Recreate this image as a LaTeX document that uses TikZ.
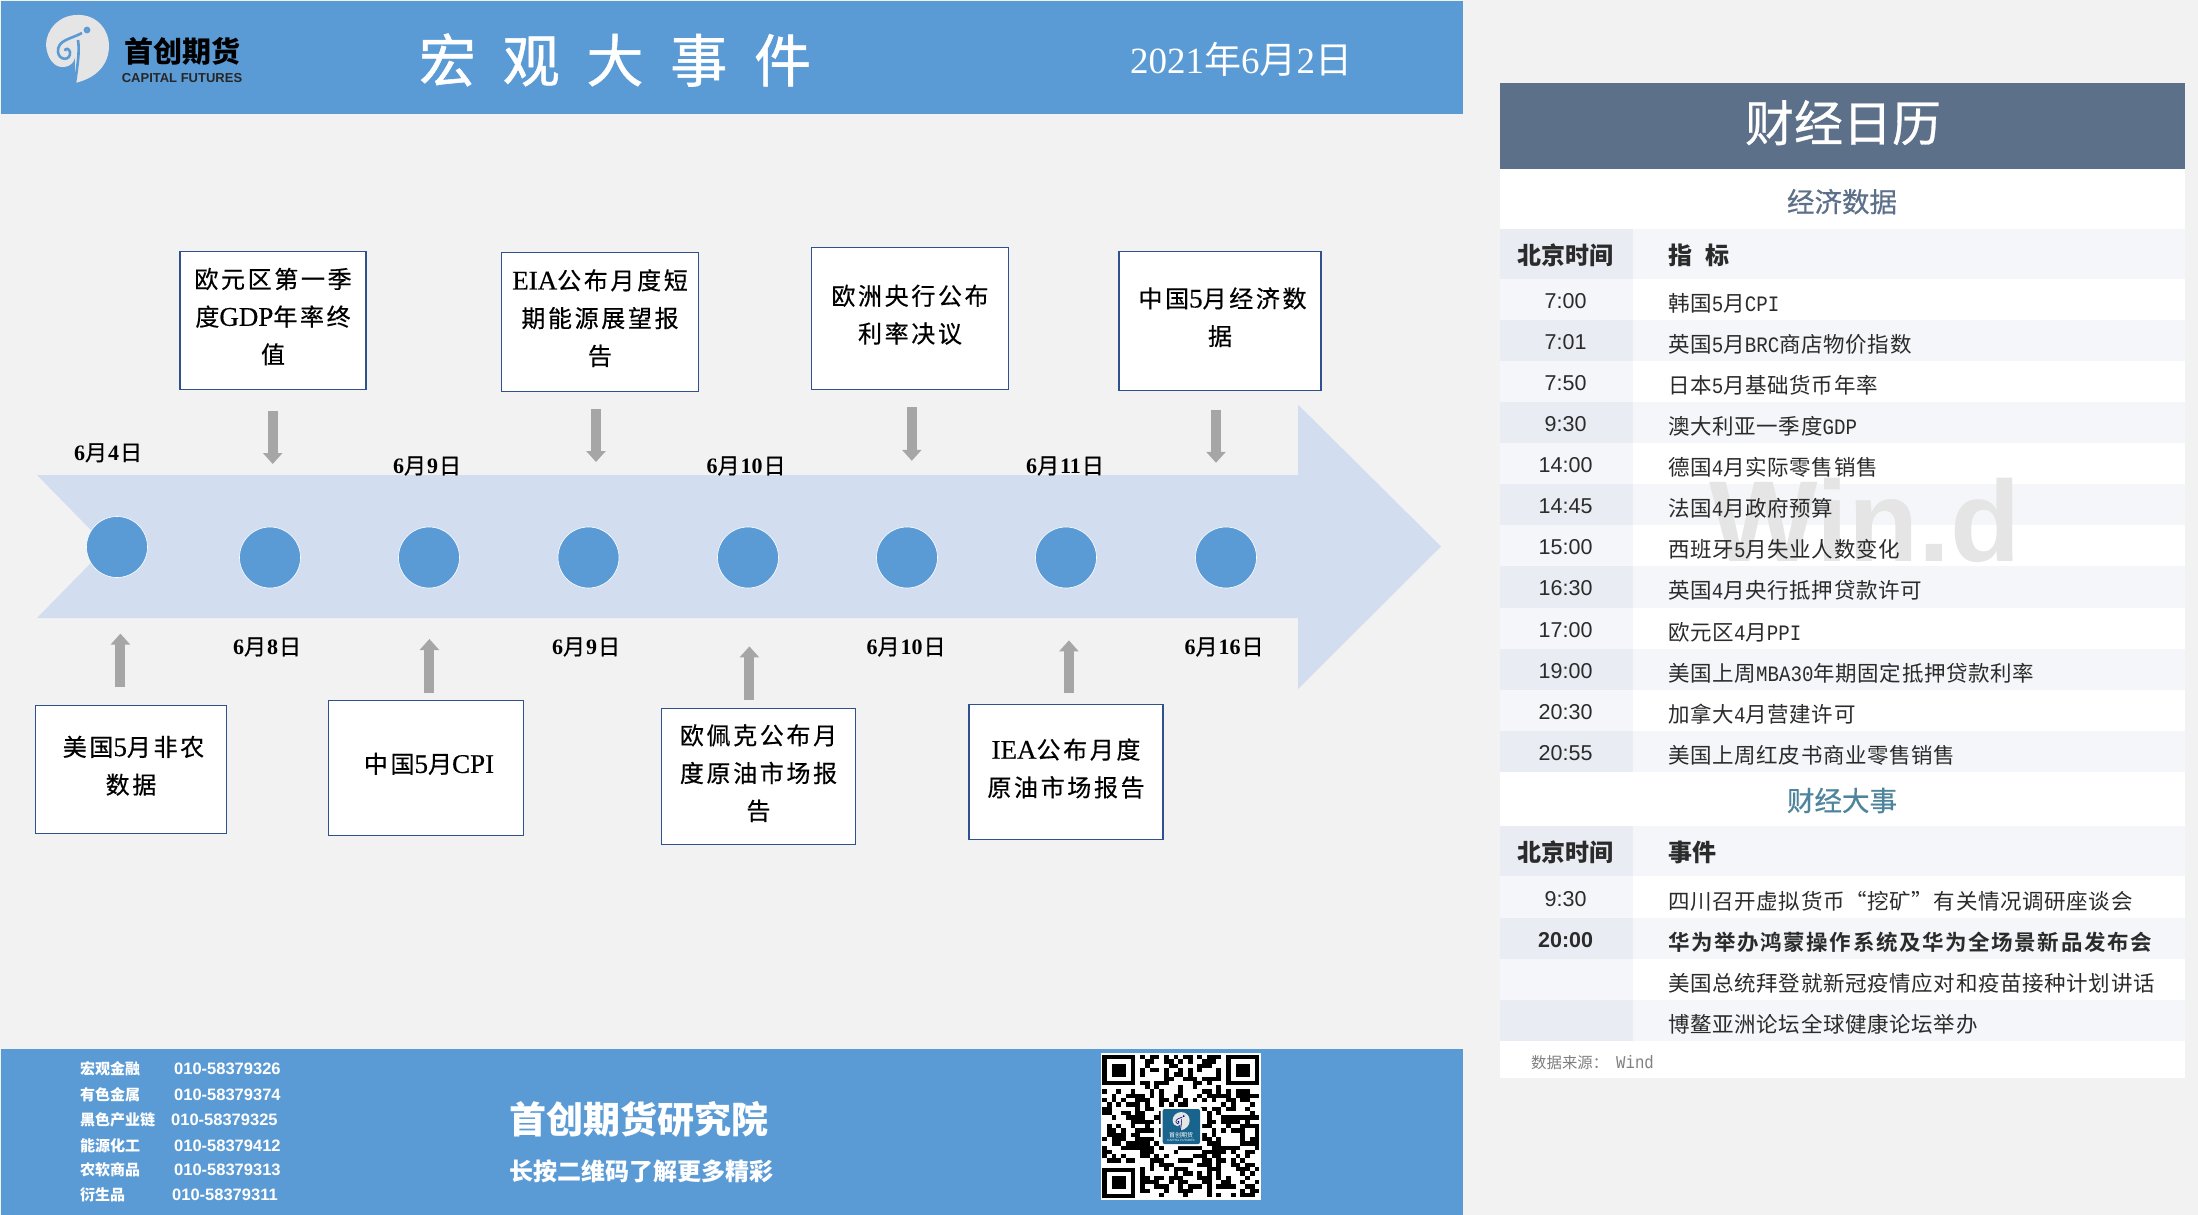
\documentclass[tikz,border=0pt]{standalone}
\usepackage{fontspec}
\setmainfont{Liberation Serif}
\setsansfont{Liberation Sans}
\setmonofont{Liberation Mono}
\newfontfamily\cjk{Noto Sans CJK SC}
\newfontfamily\calcjk[FakeBold=.6]{Noto Sans CJK SC}
\newfontfamily\evcjk[LetterSpace=11,FakeBold=.4]{Noto Sans CJK SC}
\newfontfamily\datecjk[LetterSpace=9,FakeBold=.7]{Noto Sans CJK SC}
\newfontfamily\rowcjk[LetterSpace=3]{Noto Sans CJK SC}
\newfontfamily\rowbold[LetterSpace=7.5]{Noto Sans CJK SC Bold}
\newfontfamily\titlecjk[LetterSpace=47,FakeBold=1]{Noto Sans CJK SC}
\newfontfamily\rowmono[FakeStretch=.87]{Liberation Mono}
\newfontfamily\evlatin[FakeBold=.4]{Liberation Serif}
\newcommand\fs[1]{\fontsize{#1}{#1}\selectfont}
\newcommand\mn[1]{{\fs{22}\rowmono #1}}
\newcommand\lt[1]{{\fontsize{27}{37.7}\selectfont\evlatin #1}}
\newcommand\dt[2]{{\rmfamily\bfseries #1}月\hspace{1pt}{\rmfamily\bfseries #2}\hspace{1pt}日}
\usetikzlibrary{arrows.meta}
\definecolor{pagegray}{HTML}{F2F2F2}
\definecolor{headblue}{HTML}{5B9BD5}
\definecolor{shaftblue}{HTML}{D2DEEF}
\definecolor{boxline}{HTML}{2F528F}
\definecolor{slate}{HTML}{5C708A}
\definecolor{rowdark}{HTML}{E9EDF3}
\definecolor{rowlight}{HTML}{F4F6F9}
\definecolor{inktext}{HTML}{2B2B2B}
\tikzset{
  eventbox/.style={draw=boxline,line width=1.2pt,fill=white,inner sep=0pt,align=center,
    font=\fontsize{24}{37.7}\selectfont\evcjk,execute at end node={\rule[-9.5pt]{0pt}{0pt}}},
  eventdot/.style={circle,draw=white,line width=.6pt,fill=headblue,inner sep=0pt,minimum size=61pt},
  datelab/.style={inner sep=0pt,font=\fs{22}\datecjk},
  grayarrow/.style={line width=10pt,color=black!35,-{Triangle[length=11pt,width=19pt]}},
  timelab/.style={anchor=base,inner sep=0pt,text=inktext,font=\fs{21.5}\sffamily},
  rowlab/.style={anchor=base west,inner sep=0pt,text=inktext,font=\fs{21.5}\rowcjk},
  headlab/.style={anchor=base,inner sep=0pt,text=inktext,font=\fs{24}\bfseries\cjk},
  sectionlab/.style={inner sep=0pt,font=\fs{27.5}\calcjk},
  phonelab/.style={anchor=west,inner sep=0pt,text=white,font=\fs{16.5}\bfseries\sffamily},
  deptlab/.style={anchor=west,inner sep=0pt,text=white,font=\fs{15}\bfseries\cjk},
  swirl/.pic={
    \fill[white!90!black] (-2,35) .. controls (20,30) and (32,16) .. (32,-2)
      .. controls (32,-20) and (18,-34) .. (0,-33)
      .. controls (-18,-33) and (-31,-18) .. (-31,-3)
      .. controls (-30,10) and (-23,20) .. (-13,19)
      .. controls (-4,18) and (0,10) .. (-2,3) -- cycle;
    \draw[pic actions,fill=none] (5,-15) .. controls (-6,-9) and (-20,-8) .. (-19,4)
      .. controls (-18,13) and (-6,13) .. (-7,4) .. controls (-8,0) and (-12,0) .. (-12,3);
    \draw[pic actions,fill=none] (1,-8) .. controls (3,4) and (0,20) .. (-2,35);
    \draw[pic actions,fill=none] (10,-18) circle (2);
  }
}
\begin{document}
\begin{tikzpicture}[x=1pt,y=-1pt]
  \useasboundingbox (0,0) rectangle (2198,1215);
  \fill[pagegray] (0,0) rectangle (2198,1215);
  \fill[headblue] (1,1) rectangle (1463,114);
  \fill[headblue] (1,1049) rectangle (1463,1215);

  % header
  \pic[draw=headblue,line width=2.6pt] at (77,48) {swirl};
  \node[inner sep=0pt,font=\fs{29}\bfseries\cjk] (brand) at (182,51) {首创期货};
  \node[inner sep=0pt,text=black!85,font=\fs{13}\bfseries\sffamily] (brandsub) at (182,78) {CAPITAL FUTURES};
  \node[inner sep=0pt,text=white,font=\fs{57}\titlecjk] (title) at (615,60) {宏观大事件};
  \node[inner sep=0pt,text=white,font=\fs{37}\rmfamily] (today) at (1241,59) {2021{\cjk 年}6{\cjk 月}2{\cjk 日}};

  \begin{scope}[yshift=-1pt]
  % timeline arrow
  \fill[shaftblue] (37,474) -- (1298,474) -- (1298,403.6) -- (1441,545.5) -- (1298,688)
    -- (1298,617) -- (37,617) -- (107,545.5) -- cycle;
  \node[eventdot] (dot1) at (117,546) {};
  \node[eventdot] (dot2) at (270,556.5) {};
  \node[eventdot] (dot3) at (429,556.5) {};
  \node[eventdot] (dot4) at (588.5,556.5) {};
  \node[eventdot] (dot5) at (748,556.5) {};
  \node[eventdot] (dot6) at (907,556.5) {};
  \node[eventdot] (dot7) at (1066,556.5) {};
  \node[eventdot] (dot8) at (1226,556.5) {};

  % dates
  \node[datelab] (date1) at (108,451.8) {\dt{6}{4}};
  \node[datelab] (date2) at (267,646) {\dt{6}{8}};
  \node[datelab] (date3) at (427,465) {\dt{6}{9}};
  \node[datelab] (date4) at (586,646) {\dt{6}{9}};
  \node[datelab] (date5) at (746,465) {\dt{6}{10}};
  \node[datelab] (date6) at (906,646) {\dt{6}{10}};
  \node[datelab] (date7) at (1065,465) {\dt{6}{11}};
  \node[datelab] (date8) at (1224,646) {\dt{6}{16}};

  % events above
  \node[eventbox,minimum width=186pt,minimum height=138pt] (euro) at (273,319.4) {欧元区第一季\\度\lt{GDP}年率终\\值};
  \node[eventbox,minimum width=197pt,minimum height=139pt] (eia) at (600,320.8) {\lt{EIA}公布月度短\\期能源展望报\\告};
  \node[eventbox,minimum width=197pt,minimum height=142pt] (ecb) at (910,317.4) {欧洲央行公布\\利率决议};
  \node[eventbox,minimum width=202pt,minimum height=139pt] (china) at (1220,320) {\hspace*{5pt}中国\lt{5}月经济数\\据};

  % events below
  \node[eventbox,minimum width=191pt,minimum height=128pt] (nfp) at (131,768.5) {\hspace*{5pt}美国\lt{5}月非农\\数据};
  \node[eventbox,minimum width=195pt,minimum height=135pt] (cpi) at (426,766.6) {\hspace*{6pt}中国\lt{5}月\lt{CPI}};
  \node[eventbox,minimum width=194pt,minimum height=136pt] (opec) at (758.5,775.8) {欧佩克公布月\\度原油市场报\\告};
  \node[eventbox,minimum width=194pt,minimum height=135pt] (iea) at (1066,771.2) {\lt{IEA}公布月度\\原油市场报告};

  % gray arrows
  \coordinate (euroA) at (272.7,409.6);   \coordinate (euroB) at (272.7,463);
  \coordinate (eiaA) at (596,408);        \coordinate (eiaB) at (596,461);
  \coordinate (ecbA) at (911.8,406.4);    \coordinate (ecbB) at (911.8,459.8);
  \coordinate (chinaA) at (1216,408.8);   \coordinate (chinaB) at (1216,461.8);
  \coordinate (nfpA) at (120.4,686);      \coordinate (nfpB) at (120.4,632.6);
  \coordinate (cpiA) at (429.4,691.6);    \coordinate (cpiB) at (429.4,638);
  \coordinate (opecA) at (749.4,698.5);   \coordinate (opecB) at (749.4,645.4);
  \coordinate (ieaA) at (1068.9,692.4);   \coordinate (ieaB) at (1068.9,639.4);
  \draw[grayarrow] (euroA) -- (euroB);
  \draw[grayarrow] (eiaA) -- (eiaB);
  \draw[grayarrow] (ecbA) -- (ecbB);
  \draw[grayarrow] (chinaA) -- (chinaB);
  \draw[grayarrow] (nfpA) -- (nfpB);
  \draw[grayarrow] (cpiA) -- (cpiB);
  \draw[grayarrow] (opecA) -- (opecB);
  \draw[grayarrow] (ieaA) -- (ieaB);
  \end{scope}

  % footer
  \begin{scope}[yshift=-.7pt]
  \node[deptlab] (dept1) at (80,1067.9) {宏观金融};
  \node[deptlab] (dept2) at (80,1093.7) {有色金属};
  \node[deptlab] (dept3) at (80,1119) {黑色产业链};
  \node[deptlab] (dept4) at (80,1145) {能源化工};
  \node[deptlab] (dept5) at (80,1169) {农软商品};
  \node[deptlab] (dept6) at (80,1194.4) {衍生品};
  \node[phonelab] (tel1) at (174,1067.9) {010-58379326};
  \node[phonelab] (tel2) at (174,1093.7) {010-58379374};
  \node[phonelab] (tel3) at (171,1119) {010-58379325};
  \node[phonelab] (tel4) at (174,1145) {010-58379412};
  \node[phonelab] (tel5) at (174,1169) {010-58379313};
  \node[phonelab] (tel6) at (172,1194.4) {010-58379311};
  \node[anchor=west,inner sep=0pt,text=white,font=\fs{37}\bfseries\cjk] (inst) at (509,1119) {首创期货研究院};
  \node[anchor=west,inner sep=0pt,text=white,font=\fs{24}\bfseries\cjk] (hint) at (509,1171) {长按二维码了解更多精彩};
  \end{scope}

  % qr code
  \fill[white] (1100.6,1053.4) rectangle (1260.7,1199.7);
  \pgfmathsetseed{2021}
  \foreach \i in {0,...,32}
    \foreach \j in {0,...,32}{
      \pgfmathrandominteger{\qrbit}{0}{1}
      \pgfmathtruncatemacro\qrskip{or(or(and(\i<8,\j<8),and(\i>24,\j<8)),and(\i<8,\j>24))}
      \ifnum\qrbit=1 \ifnum\qrskip=0
        \fill[black] ({1102+4.77*\i},{1055+4.31*\j}) rectangle +(4.77,4.31);
      \fi\fi
    }
  \foreach \fx/\fy in {1102/1055,1226/1055,1102/1167.7}{
    \fill[black] (\fx,\fy) rectangle +(33.4,30.2);
    \fill[white] (\fx+4.77,\fy+4.31) rectangle +(23.9,21.6);
    \fill[black] (\fx+9.5,\fy+8.6) rectangle +(14.3,12.9);
  }
  \fill[white,rounded corners=2pt] (1160.7,1107) rectangle (1202,1146);
  \fill[blue!35!cyan!50!black!90,rounded corners=2pt] (1162.7,1109) rectangle (1200,1144);
  \pic[draw=black!50!blue,line width=.6pt,scale=.27] at (1181,1121) {swirl};
  \node[inner sep=0pt,text=white,font=\fs{6}\cjk] (qrbrand) at (1181,1135) {首创期货};
  \node[inner sep=0pt,text=white,font=\fs{3}\sffamily] (qrsub) at (1181,1140) {CAPITAL FUTURES};

  % calendar panel
  \fill[white] (1500,169.3) rectangle (2185,1078);
  \fill[slate] (1500,82.7) rectangle (2185,169.3);
  \node[inner sep=0pt,text=white,font=\fs{49}\calcjk] (caltitle) at (1843,122.7) {财经日历};
  \node[sectionlab,text=slate] (sectdata) at (1842,201.7) {经济数据};
  \fill[rowdark] (1500,228.7) rectangle (1632.5,278.7);
  \fill[rowlight] (1632.5,228.7) rectangle (2185,278.7);
  \foreach \i in {0,...,11}{
    \pgfmathsetmacro\ry{278.7+41.1*\i}
    \ifodd\i
      \fill[rowdark] (1500,\ry) rectangle (1632.5,\ry+41.1);
      \fill[rowlight] (1632.5,\ry) rectangle (2185,\ry+41.1);
    \else
      \fill[rowlight] (1500,\ry) rectangle (1632.5,\ry+41.1);
    \fi
  }
  \node[inner sep=0pt,text=black!10,font=\fs{115}\bfseries\sffamily] (mark) at (1865,520) {Win.d};
  \node[headlab] (headtime) at (1565,264) {北京时间};
  \node[headlab,anchor=base west] (headitem) at (1668,264) {指\hspace{13pt}标};
  \foreach \i/\tm/\txt in {
    0/7:00/韩国\mn{5}月\mn{CPI},
    1/7:01/英国\mn{5}月\mn{BRC}商店物价指数,
    2/7:50/日本\mn{5}月基础货币年率,
    3/9:30/澳大利亚一季度\mn{GDP},
    4/14:00/德国\mn{4}月实际零售销售,
    5/14:45/法国\mn{4}月政府预算,
    6/15:00/西班牙\mn{5}月失业人数变化,
    7/16:30/英国\mn{4}月央行抵押贷款许可,
    8/17:00/欧元区\mn{4}月\mn{PPI},
    9/19:00/美国上周\mn{MBA30}年期固定抵押贷款利率,
    10/20:30/加拿大\mn{4}月营建许可,
    11/20:55/美国上周红皮书商业零售销售}{
    \pgfmathsetmacro\ry{278.7+41.1*\i}
    \node[timelab] (tm\i) at (1565.6,\ry+29.5) {\tm};
    \node[rowlab] (item\i) at (1668,\ry+32.5) {\txt};
  }
  \node[sectionlab,text=slate!85!cyan] (sectevent) at (1842,800.5) {财经大事};
  \fill[rowdark] (1500,826) rectangle (1632.5,876);
  \fill[rowlight] (1632.5,826) rectangle (2185,876);
  \fill[rowlight] (1500,876) rectangle (1632.5,917.5);
  \fill[rowdark] (1500,917.5) rectangle (1632.5,958.5);
  \fill[rowlight] (1632.5,917.5) rectangle (2185,958.5);
  \fill[rowlight] (1500,958.5) rectangle (1632.5,1000);
  \fill[rowdark] (1500,1000) rectangle (1632.5,1041);
  \fill[rowlight] (1632.5,1000) rectangle (2185,1041);
  \node[headlab] (headtimeb) at (1565,861.5) {北京时间};
  \node[headlab,anchor=base west] (headevent) at (1668,861.5) {事件};
  \node[timelab] (tmA) at (1565.6,906) {9:30};
  \node[rowlab] (evA) at (1668,909) {四川召开虚拟货币“挖矿”有关情况调研座谈会};
  \node[timelab,font=\fs{21.5}\bfseries\sffamily] (tmB) at (1565.6,947) {20:00};
  \node[rowlab,font=\fs{21.5}\rowbold] (evB) at (1668,950) {华为举办鸿蒙操作系统及华为全场景新品发布会};
  \node[rowlab] (evC) at (1668,991) {美国总统拜登就新冠疫情应对和疫苗接种计划讲话};
  \node[rowlab] (evD) at (1668,1032) {博鳌亚洲论坛全球健康论坛举办};
  \node[anchor=west,inner sep=0pt,text=black!50,font=\fs{15.4}\cjk] (source) at (1531,1063) {数据来源：\hspace{8pt}{\fs{18}\rowmono Wind}};
\end{tikzpicture}
\end{document}
